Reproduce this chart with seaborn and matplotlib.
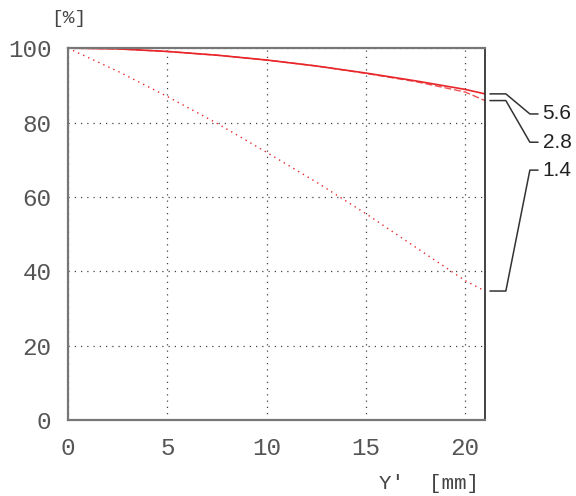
import matplotlib
matplotlib.use('Agg')
import matplotlib.pyplot as plt
import seaborn as sns
import pandas as pd

# image height (mm) and relative illumination (%) per f-number
image_height = [0, 2.5, 5, 7.5, 10, 12.5, 15, 17.5, 20, 21]
illum_56 = [100, 99.8, 99.1, 98.1, 96.8, 95.2, 93.3, 91.2, 88.9, 87.7]
illum_28 = [100, 99.8, 99.1, 98.1, 96.8, 95.2, 93.2, 91.0, 88.2, 85.9]
illum_14 = [100, 93.8, 87.0, 79.8, 72.0, 64.0, 55.5, 46.5, 37.5, 34.7]

labels = ['5.6', '2.8', '1.4']
label_y = [82.3, 74.7, 67.2]

x_ticks = [0, 5, 10, 15, 20]
y_ticks = [0, 20, 40, 60, 80, 100]

df = pd.DataFrame({'h': image_height, '5.6': illum_56, '2.8': illum_28, '1.4': illum_14})

sns.set_style('white')
plt.rcParams['font.family'] = ['Liberation Mono', 'DejaVu Sans']

fig = plt.figure(figsize=(5.76, 4.96), dpi=100)
ax = fig.add_axes([0.118, 0.153, 0.724, 0.750])

red = '#e8262a'
sns.lineplot(data=df, x='h', y='5.6', ax=ax, color=red, lw=1.2, linestyle='-')
sns.lineplot(data=df, x='h', y='2.8', ax=ax, color=red, lw=1.0, linestyle=(0, (5, 2)), alpha=0.8)
sns.lineplot(data=df, x='h', y='1.4', ax=ax, color=red, lw=1.0, linestyle=(0, (1, 3)))

ax.set_xlim(0, 21)
ax.set_ylim(0, 100)
ax.set_xticks(x_ticks)
ax.set_yticks(y_ticks)
ax.grid(True, color='#444444', linestyle=(0, (1, 4)), lw=0.9)
ax.tick_params(axis='both', direction='out', length=10, width=1, color='#555555',
               labelsize=17.5, labelcolor='#555555', pad=2)
for s in ['left', 'bottom', 'top']:
    ax.spines[s].set_color('#777777')
    ax.spines[s].set_linewidth(1.6)
ax.spines['right'].set_color('#222222')
ax.spines['right'].set_linewidth(1.2)
ax.set_xlabel('')
ax.set_ylabel('')

fig.text(0.12, 0.962, '[%]', ha='center', va='center', fontsize=14, color='#444444')
fig.text(0.745, 0.026, "Y'  [mm]", ha='center', va='center', fontsize=15, color='#444444')

# leader lines to the f-number labels
end_vals = [illum_56[-1], illum_28[-1], illum_14[-1]]
for lab, y0, y1 in zip(labels, end_vals, label_y):
    ax.plot([21.25, 22.05, 23.26, 23.67], [y0, y0, y1, y1], color='#333333', lw=1.1, clip_on=False)
    ax.text(23.9, y1, lab, ha='left', va='center', fontsize=15, color='#222222',
            family=['Liberation Sans', 'DejaVu Sans'])

fig.savefig('out.png', dpi=100)
